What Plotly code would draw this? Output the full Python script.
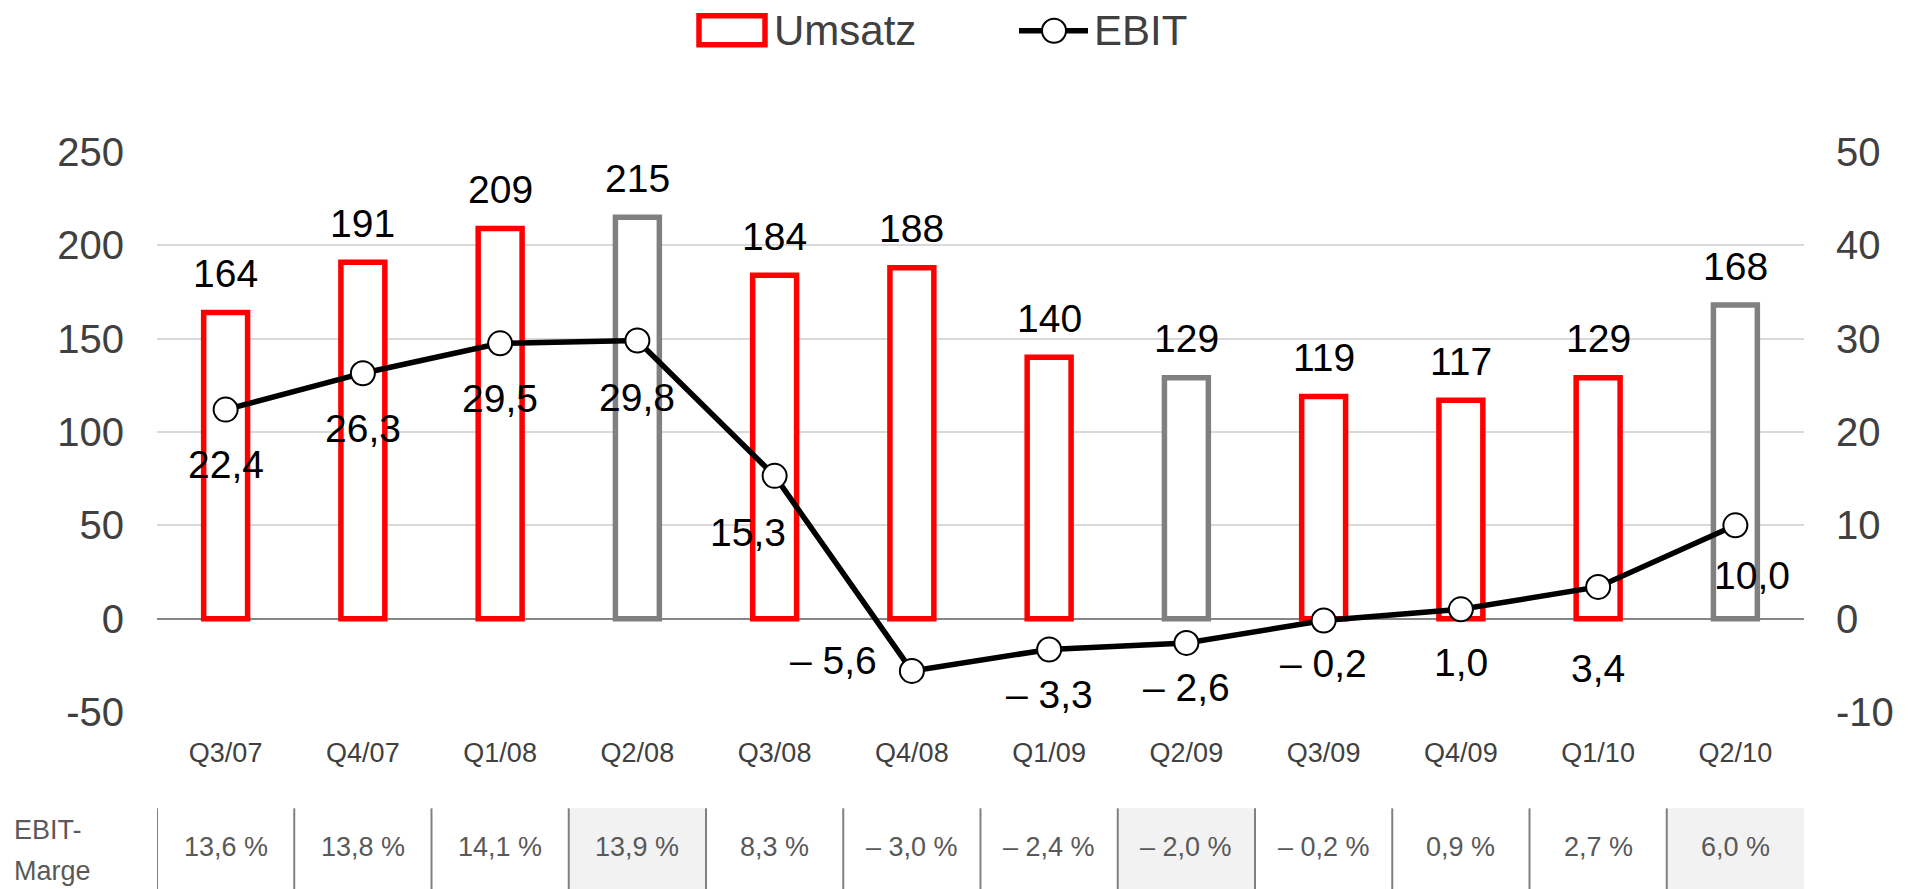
import plotly.graph_objects as go

# ---------------- data ----------------
categories = ["Q3/07", "Q4/07", "Q1/08", "Q2/08", "Q3/08", "Q4/08",
              "Q1/09", "Q2/09", "Q3/09", "Q4/09", "Q1/10", "Q2/10"]
umsatz = [164, 191, 209, 215, 184, 188, 140, 129, 119, 117, 129, 168]
ebit = [22.4, 26.3, 29.5, 29.8, 15.3, -5.6, -3.3, -2.6, -0.2, 1.0, 3.4, 10.0]
ebit_marge = [13.6, 13.8, 14.1, 13.9, 8.3, -3.0, -2.4, -2.0, -0.2, 0.9, 2.7, 6.0]
highlight = ["Q2/08", "Q2/09", "Q2/10"]

left_ticks = [-50, 0, 50, 100, 150, 200, 250]
left_ticktext = ["-50", "0", "50", "100", "150", "200", "250"]
right_ticks = [-10, 0, 10, 20, 30, 40, 50]
right_ticktext = ["-10", "0", "10", "20", "30", "40", "50"]

# ---------------- style ----------------
W, H = 1910, 889
PL, PR, PT, PB = 157, 1804, 151.5, 712.5   # plot area in pixels
RED = "#FF0000"
GREY = "#808080"
FONT = "Liberation Sans, Arial, sans-serif"
AXIS_TXT = "#404040"
TABLE_TXT = "#595959"

# label offsets (pixels) for EBIT labels: (xshift, yshift)
ebit_label_shift = [(0, -55), (0, -55), (0, -55), (0, -57), (-27, -57), (-78, 10),
                    (0, -45), (0, -45), (0, -43), (0, -53), (0, -82), (17, -50)]


def px_x(px):
    return (px - PL) / (PR - PL)


def px_y(py):
    return (PB - py) / (PB - PT)


def de_num(v, dec=1):
    s = f"{abs(v):.{dec}f}".replace(".", ",")
    return ("– " + s) if v < 0 else s


bar_colors = [GREY if c in highlight else RED for c in categories]

fig = go.Figure()

fig.add_trace(go.Bar(
    x=categories, y=umsatz, name="Umsatz",
    marker=dict(color="white", line=dict(color=bar_colors, width=5.5)),
    width=0.32, showlegend=False, hoverinfo="x+y",
))

fig.add_trace(go.Scatter(
    x=categories, y=ebit, name="EBIT", yaxis="y2", mode="lines+markers",
    line=dict(color="black", width=5.5),
    marker=dict(size=24, color="white", line=dict(color="black", width=2)),
    showlegend=False,
))

annotations = []
# Umsatz labels
for c, v in zip(categories, umsatz):
    annotations.append(dict(
        x=c, y=v, xref="x", yref="y", text=str(v), showarrow=False,
        yanchor="middle", yshift=39, font=dict(size=39, color="black", family=FONT)))
# EBIT labels
for c, v, (dx, dy) in zip(categories, ebit, ebit_label_shift):
    annotations.append(dict(
        x=c, y=v, xref="x", yref="y2", text=de_num(v), showarrow=False,
        yanchor="middle", xanchor="center", xshift=dx, yshift=dy,
        font=dict(size=39, color="black", family=FONT)))
# EBIT-Marge table texts
for c, m in zip(categories, ebit_marge):
    annotations.append(dict(
        x=c, y=px_y(848), xref="x", yref="paper", text=de_num(m) + " %",
        showarrow=False, yanchor="middle",
        font=dict(size=27, color=TABLE_TXT, family=FONT)))
for txt, py in (("EBIT-", 831), ("Marge", 872)):
    annotations.append(dict(
        x=px_x(12), y=px_y(py), xref="paper", yref="paper", text=txt,
        showarrow=False, xanchor="left", yanchor="middle", align="left",
        font=dict(size=27, color=TABLE_TXT, family=FONT)))
# legend texts
annotations.append(dict(
    x=px_x(772), y=px_y(30), xref="paper", yref="paper", text="Umsatz",
    showarrow=False, xanchor="left", yanchor="middle",
    font=dict(size=42, color=AXIS_TXT, family=FONT)))
annotations.append(dict(
    x=px_x(1092), y=px_y(30), xref="paper", yref="paper", text="EBIT",
    showarrow=False, xanchor="left", yanchor="middle",
    font=dict(size=42, color=AXIS_TXT, family=FONT)))

shapes = []
# table shading and separators
n = len(categories)
for i, c in enumerate(categories):
    if c in highlight:
        shapes.append(dict(type="rect", xref="x", yref="paper",
                           x0=i - 0.5, x1=i + 0.5, y0=px_y(809), y1=px_y(H + 5),
                           fillcolor="#F2F2F2", line=dict(width=0), layer="below"))
for i in range(n):
    shapes.append(dict(type="line", xref="x", yref="paper",
                       x0=i - 0.5, x1=i - 0.5, y0=px_y(809), y1=px_y(H + 5),
                       line=dict(color=GREY, width=2)))
# legend symbols
shapes.append(dict(type="rect", xref="paper", yref="paper",
                   x0=px_x(699), x1=px_x(765), y0=px_y(44), y1=px_y(15),
                   line=dict(color=RED, width=5.5), fillcolor="white"))
shapes.append(dict(type="line", xref="paper", yref="paper",
                   x0=px_x(1019), x1=px_x(1088), y0=px_y(30), y1=px_y(30),
                   line=dict(color="black", width=5.5)))
shapes.append(dict(type="circle", xref="paper", yref="paper",
                   x0=px_x(1042), x1=px_x(1066), y0=px_y(42), y1=px_y(18),
                   line=dict(color="black", width=2), fillcolor="white"))

fig.update_layout(
    width=W, height=H,
    margin=dict(l=PL, r=W - PR, t=PT, b=H - PB, pad=0),
    paper_bgcolor="white", plot_bgcolor="white",
    font=dict(family=FONT, color=AXIS_TXT),
    showlegend=False,
    bargap=0.5,
    xaxis=dict(
        type="category", categoryorder="array", categoryarray=categories,
        range=[-0.5, n - 0.5], showgrid=False, showline=False, zeroline=False,
        ticks="", tickfont=dict(size=27, color=AXIS_TXT), ticklabelstandoff=22,
    ),
    yaxis=dict(
        range=[-50, 250], tickvals=left_ticks, ticktext=left_ticktext,
        showgrid=True, gridcolor="#D9D9D9",
        gridwidth=1.5, zeroline=True, zerolinecolor="#868686", zerolinewidth=1.5,
        showline=False, ticks="", tickfont=dict(size=40, color=AXIS_TXT),
        ticklabelstandoff=32,
    ),
    yaxis2=dict(
        range=[-10, 50], tickvals=right_ticks, ticktext=right_ticktext,
        overlaying="y", side="right",
        showgrid=False, zeroline=False, showline=False, ticks="",
        tickfont=dict(size=40, color=AXIS_TXT), ticklabelstandoff=31,
    ),
    annotations=annotations,
    shapes=shapes,
)

fig.write_html(
    "out.html",
    config={"displayModeBar": False},
    post_script="document.body.style.margin='0px';document.body.style.overflow='hidden';",
)
